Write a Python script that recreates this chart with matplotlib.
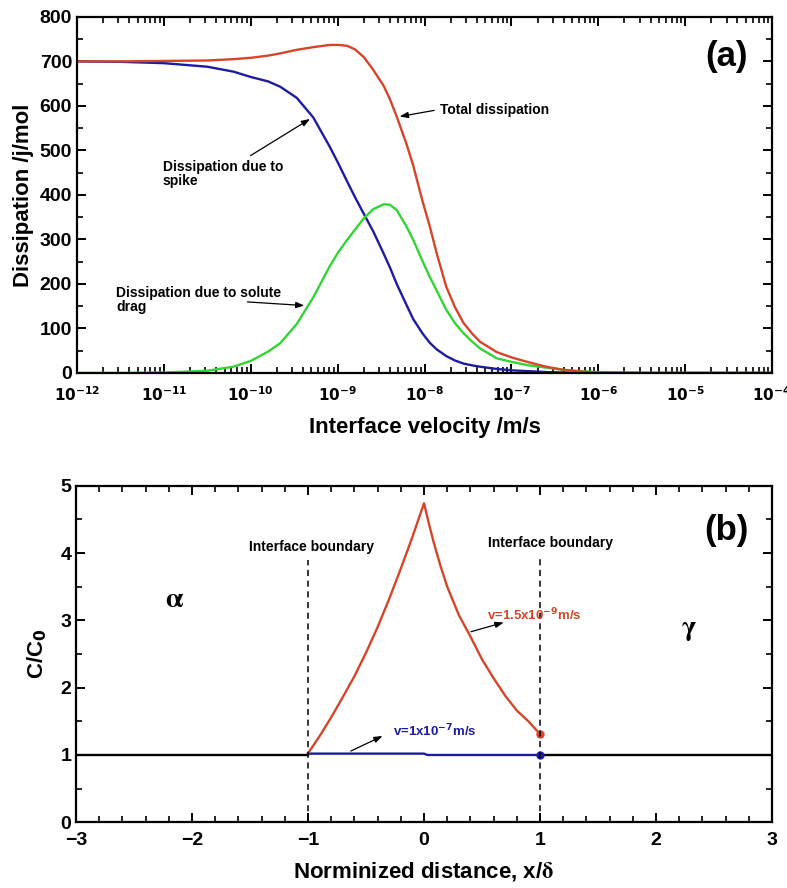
import math
import matplotlib
matplotlib.use("Agg")
import matplotlib.pyplot as plt
from matplotlib.ticker import (MultipleLocator, FixedLocator, FuncFormatter,
                               NullFormatter)

plt.rcParams['font.family'] = ['Liberation Sans', 'DejaVu Sans']
plt.rcParams['font.weight'] = 'bold'
plt.rcParams['mathtext.fontset'] = 'dejavusans'

RED = '#d4452a'
BLUE = '#1c1c9e'
GREEN = '#33d433'

# (a) dissipation vs interface velocity, velocity given as log10 exponent
log_v = [-12, -11.5, -11, -10.5, -10.2, -10, -9.8, -9.66, -9.47, -9.28, -9.09,
         -8.99, -8.89, -8.80, -8.70, -8.59, -8.47, -8.40, -8.32, -8.21, -8.13,
         -8.02, -7.94, -7.86, -7.75, -7.65, -7.55, -7.45, -7.36, -7.17, -7.0,
         -6.8, -6.6, -6.4, -6.2, -6.0, -5.5, -5, -4]
total_diss = [700, 700, 701, 702, 705, 708, 713, 718, 726, 732, 737,
              737, 735, 727, 710, 681, 645, 616, 576, 516, 466,
              384, 330, 269, 194, 148, 112, 88, 70, 47, 35,
              24, 14, 7, 3, 1, 0, 0, 0]
spike_diss = [700, 699, 696, 688, 677, 665, 655, 643, 618, 574, 508,
              470, 430, 395, 358, 318, 268, 238, 200, 154, 121,
              88, 68, 53, 38, 28, 21, 17, 14, 9, 6,
              4, 2, 1, 0, 0, 0, 0, 0]
drag_diss = [0, 0, 1, 5, 14, 27, 48, 67, 110, 170, 240,
             272, 299, 322, 347, 368, 379, 378, 366, 330, 299,
             250, 216, 185, 142, 112, 89, 70, 55, 33, 25,
             17, 12, 7, 4, 2, 0, 0, 0]

# (b) normalised solute profile C/C0 across the interface
x_alpha = [-3, -1]
c_alpha = [1.0, 1.0]
x_gamma = [1, 3]
c_gamma = [1.0, 1.0]
x_fast = [-1, 0, 0.03, 1]
c_fast = [1.02, 1.02, 1.0, 1.0]
x_slow = [-1, -0.9, -0.8, -0.7, -0.6, -0.5, -0.4, -0.3, -0.2, -0.1, 0,
          0.04, 0.08, 0.14, 0.2, 0.3, 0.4, 0.5, 0.6, 0.7, 0.8, 0.9, 1.0]
c_slow = [1.025, 1.28, 1.56, 1.86, 2.17, 2.52, 2.90, 3.32, 3.77, 4.24, 4.74,
          4.45, 4.18, 3.82, 3.50, 3.08, 2.76, 2.42, 2.14, 1.88, 1.66, 1.50, 1.31]

velocity = [10.0 ** e for e in log_v]

fig = plt.figure(figsize=(7.87, 8.88), dpi=100)
ax1 = fig.add_axes([0.0978, 0.580, 0.8832, 0.401])
ax2 = fig.add_axes([0.0966, 0.074, 0.8844, 0.379])


def style_axes(ax, labelsize=14):
    for sp in ax.spines.values():
        sp.set_linewidth(1.6)
    ax.tick_params(axis='both', which='major', direction='in', top=True,
                   right=True, labelsize=labelsize, length=6.5, width=1.4)
    ax.tick_params(axis='both', which='minor', direction='in', top=True,
                   right=True, length=4.5, width=1.2)
    for lab in ax.get_xticklabels() + ax.get_yticklabels():
        lab.set_fontweight('bold')


def pow10_label(v, pos):
    return r'$\mathbf{10^{%d}}$' % round(math.log10(v))


# ---- panel (a)
ax1.plot(velocity, spike_diss, color=BLUE, lw=1.7)
ax1.plot(velocity, drag_diss, color=GREEN, lw=1.7)
ax1.plot(velocity, total_diss, color=RED, lw=1.7)
ax1.set_xscale('log')
ax1.set_xlim(1e-12, 1e-4)
ax1.set_ylim(0, 800)
decades = range(-12, -3)
ax1.xaxis.set_major_locator(FixedLocator([10.0 ** d for d in decades]))
ax1.xaxis.set_minor_locator(FixedLocator([m * 10.0 ** d for d in decades[:-1]
                                          for m in range(2, 10)]))
ax1.xaxis.set_minor_formatter(NullFormatter())
ax1.xaxis.set_major_formatter(FuncFormatter(pow10_label))
ax1.yaxis.set_major_locator(MultipleLocator(100))
ax1.yaxis.set_minor_locator(MultipleLocator(50))
style_axes(ax1)
ax1.tick_params(axis='x', which='major', labelsize=11, pad=9)
ax1.set_xlabel('Interface velocity /m/s', fontsize=16, fontweight='bold', labelpad=9)
ax1.set_ylabel('Dissipation /j/mol', fontsize=16, fontweight='bold', labelpad=4)
ax1.text(0.935, 0.888, '(a)', transform=ax1.transAxes, fontsize=25,
         fontweight='bold', ha='center', va='center')

arrow = dict(arrowstyle='-|>,head_length=0.5,head_width=0.18', color='k', lw=0.9)
ax1.text(10 ** -7.82, 590, 'Total dissipation', fontsize=10, ha='left', va='center')
ax1.annotate('', xy=(10 ** -8.318, 575), xytext=(10 ** -7.857, 591), arrowprops=arrow)
ax1.text(10 ** -11.01, 446, 'Dissipation due to\nspike', fontsize=10,
         ha='left', va='center', linespacing=1.0)
ax1.annotate('', xy=(10 ** -9.29, 574), xytext=(10 ** -10.03, 485), arrowprops=arrow)
ax1.text(10 ** -11.55, 164, 'Dissipation due to solute\ndrag', fontsize=10,
         ha='left', va='center', linespacing=1.0)
ax1.annotate('', xy=(10 ** -9.35, 151), xytext=(10 ** -10.07, 160), arrowprops=arrow)

# ---- panel (b)
ax2.plot(x_alpha, c_alpha, color='k', lw=1.7)
ax2.plot(x_gamma, c_gamma, color='k', lw=1.7)
ax2.plot(x_fast, c_fast, color=BLUE, lw=1.7)
ax2.plot(x_slow, c_slow, color=RED, lw=1.7)
ax2.plot([x_slow[-1]], [c_slow[-1]], 'o', color=RED, ms=5)
ax2.plot([x_fast[-1]], [c_fast[-1]], 'o', color=BLUE, ms=5)
ax2.plot([-1, -1], [0, 3.9], color='k', lw=1.1, ls=(0, (4, 3)))
ax2.plot([1, 1], [0, 3.95], color='k', lw=1.1, ls=(0, (4, 3)))
ax2.set_xlim(-3, 3)
ax2.set_ylim(0, 5)
ax2.xaxis.set_major_locator(MultipleLocator(1))
ax2.xaxis.set_minor_locator(MultipleLocator(0.2))
ax2.yaxis.set_major_locator(MultipleLocator(1))
ax2.yaxis.set_minor_locator(MultipleLocator(0.5))
ax2.xaxis.set_major_formatter(FuncFormatter(lambda v, pos: '%d' % v if v >= 0 else '\u2212%d' % -v))
style_axes(ax2)
ax2.tick_params(axis='x', which='major', pad=7)
ax2.set_xlabel(r'Norminized distance, x/$\mathrm{\delta}$', fontsize=16,
               fontweight='bold', math_fontfamily='stix', labelpad=8)
ax2.set_ylabel(r'C/C$_\mathbf{0}$', fontsize=16, fontweight='bold', labelpad=8)
ax2.text(0.935, 0.868, '(b)', transform=ax2.transAxes, fontsize=25,
         fontweight='bold', ha='center', va='center')

ax2.text(-0.966, 4.09, 'Interface boundary', fontsize=10, ha='center', va='center')
ax2.text(1.086, 4.15, 'Interface boundary', fontsize=10, ha='center', va='center')
ax2.text(-2.15, 3.30, r'$\mathrm{\alpha}$', fontsize=20, ha='center', va='center',
         math_fontfamily='stix')
ax2.text(2.28, 2.86, r'$\mathrm{\gamma}$', fontsize=20, ha='center', va='center',
         math_fontfamily='stix')

ax2.text(-0.27, 1.35, r'v=1x10$^{\mathbf{-7}}$m/s', fontsize=9.5, color=BLUE,
         ha='left', va='center')
ax2.annotate('', xy=(-0.336, 1.30), xytext=(-0.653, 1.04), arrowprops=arrow)
ax2.text(0.54, 3.08, r'v=1.5x10$^{\mathbf{-9}}$m/s', fontsize=9.5, color=RED,
         ha='left', va='center')
ax2.annotate('', xy=(0.71, 2.98), xytext=(0.382, 2.82), arrowprops=arrow)

fig.savefig('out.png', dpi=100)
